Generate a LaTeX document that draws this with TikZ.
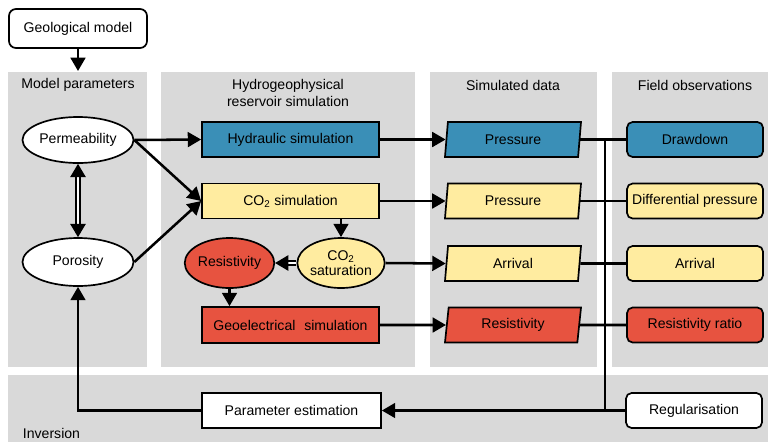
\documentclass[tikz,border=0pt]{standalone}
\usepackage{fontspec}
\setmainfont{Liberation Sans}
\usetikzlibrary{arrows.meta,shapes.geometric}
\definecolor{panelgray}{RGB}{217,217,217}
\definecolor{hydblue}{RGB}{58,143,183}
\definecolor{co2yellow}{RGB}{255,236,160}
\definecolor{resred}{RGB}{231,83,64}
\begin{document}
\begin{tikzpicture}[x=0.025cm,y=-0.025cm,font=\fontsize{10}{11.5}\selectfont,
		panel/.style={fill=panelgray,draw=none},
		box/.style={draw,line width=1.2pt,minimum width=4.425cm,minimum height=0.875cm,inner sep=1pt},
		obsbox/.style={box,rounded corners=4pt,minimum width=3.4cm},
		blob/.style={draw,line width=1.2pt,ellipse,inner sep=0pt},
		datum/.style={draw,line width=1.2pt,trapezium,trapezium left angle=77,trapezium right angle=103,
			trapezium stretches body,minimum width=3.4cm,minimum height=0.875cm,inner sep=1pt},
		flow/.style={line width=1.8pt,-{Triangle[length=9.5pt,width=10.5pt]}},
		link/.style={line width=1.8pt},
		twin/.style={line width=1.1pt,double,double distance=1.8pt,-{Triangle[length=9.5pt,width=11pt]}}]
		\useasboundingbox (0,0) rectangle (768,442);
		% grey panels
		\fill[panel] (8,72) rectangle (147,367);
		\fill[panel] (161,72) rectangle (415,367);
		\fill[panel] (430,72) rectangle (597,367);
		\fill[panel] (612,72) rectangle (768,367);
		\fill[panel] (8,375) rectangle (768,442);
		\node (tmodel) at (78,85) {Model parameters};
		\node[align=center] (thydro) at (288,93) {Hydrogeophysical\\reservoir simulation};
		\node (tsim) at (513,85) {Simulated data};
		\node (tfield) at (695,85) {Field observations};
		\node[anchor=west] (tinv) at (18,433) {Inversion};
		% nodes
		\node[draw,line width=1.2pt,rounded corners=5pt,minimum width=3.45cm,minimum height=0.975cm,fill=white] (geo) at (78,28.5) {Geological model};
		\node[blob,fill=white,minimum width=2.775cm,minimum height=1.15cm] (perm) at (78,140) {Permeability};
		\node[blob,fill=white,minimum width=2.775cm,minimum height=1.2cm] (poro) at (78,262) {Porosity};
		\node[box,fill=hydblue] (hyd) at (290.5,139.5) {Hydraulic simulation};
		\node[box,fill=co2yellow] (co2sim) at (290.5,201) {CO\textsubscript{2} simulation};
		\node[blob,fill=co2yellow,minimum width=1.925cm,minimum height=1.25cm,align=center,font=\fontsize{10}{10.5}\selectfont] (co2sat) at (341,263) {CO\textsubscript{2}\\saturation};
		\node[blob,fill=resred,minimum width=1.925cm,minimum height=1.25cm] (res) at (229.5,263) {Resistivity};
		\node[box,fill=resred,minimum height=0.9cm] (geoel) at (290.5,325) {Geoelectrical\hspace{0.35em} simulation};
		\node[datum,fill=hydblue] (dpress) at (513,139.5) {Pressure};
		\node[datum,fill=co2yellow] (dpress2) at (513,201) {Pressure};
		\node[datum,fill=co2yellow] (darr) at (513,263.5) {Arrival};
		\node[datum,fill=resred] (dres) at (513,325) {Resistivity};
		\node[obsbox,fill=hydblue] (odraw) at (695,139.5) {Drawdown};
		\node[obsbox,fill=co2yellow] (odiff) at (695,201) {Differential pressure};
		\node[obsbox,fill=co2yellow] (oarr) at (695,263.5) {Arrival};
		\node[obsbox,fill=resred] (ores) at (695,325) {Resistivity ratio};
		\node[draw,line width=1.2pt,minimum width=4.475cm,minimum height=0.875cm,fill=white] (pest) at (291.5,410.5) {Parameter estimation};
		\node[obsbox,fill=white] (reg) at (694,410.5) {Regularisation};
		\coordinate (jtop) at (605,139.5);
		\coordinate (jbot) at (605,410.5);
		% connectors
		\draw[flow] (geo) -- (78,71);
		\draw[twin,{Triangle[length=9.5pt,width=11pt]}-{Triangle[length=9.5pt,width=11pt]}] (perm) -- (poro);
		\draw[flow] (perm.east) -- (hyd.west);
		\draw[flow] (perm.east) -- (co2sim.west);
		\draw[flow] (poro.east) -- (co2sim.west);
		\draw[flow] (co2sim.south -| co2sat.north) -- (co2sat.north);
		\draw[twin] (co2sat.west) -- (res.east);
		\draw[flow] (res.south) -- (res.south |- geoel.north);
		\draw[flow] (hyd.east) -- (dpress.west);
		\draw[flow] (co2sim.east) -- (dpress2.west);
		\draw[flow] (co2sat.east) -- (darr.west);
		\draw[flow] (geoel.east) -- (dres.west);
		\draw[link] (dpress.east) -- (odraw.west);
		\draw[link] (dpress2.east) -- (odiff.west);
		\draw[link] (darr.east) -- (oarr.west);
		\draw[link] (dres.east) -- (ores.west);
		\draw[link] (jtop) -- (jbot);
		\draw[link] (reg.west) -- (jbot);
		\draw[flow] (jbot) -- (pest.east);
		\draw[flow] (pest.west) -| (poro.south);
		\end{tikzpicture}
\end{document}
